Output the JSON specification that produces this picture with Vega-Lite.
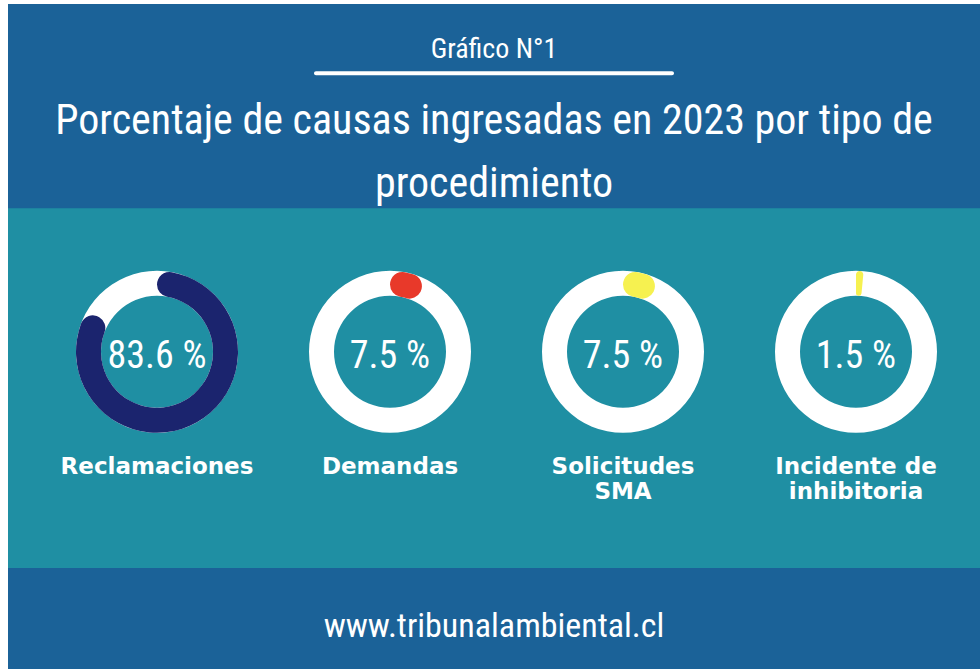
{
  "$schema": "https://vega.github.io/schema/vega-lite/v6.json",
  "width": 980,
  "height": 669,
  "autosize": {"type": "fit", "contains": "padding"},
  "padding": {"left": 8, "top": 4, "right": 0, "bottom": 0},
  "background": "#ffffff",
  "config": {
    "view": {"fill": "#1b6298", "stroke": null},
    "axis": {"disable": true}
  },
  "datasets": {
    "causas": [
      {"categoria": "Reclamaciones", "porcentaje": 83.6, "texto": "83.6 %", "nombre": "Reclamaciones"},
      {"categoria": "Demandas", "porcentaje": 7.5, "texto": "7.5 %", "nombre": "Demandas"},
      {"categoria": "Solicitudes SMA", "porcentaje": 7.5, "texto": "7.5 %", "nombre": "Solicitudes\nSMA"},
      {"categoria": "Incidente de inhibitoria", "porcentaje": 1.5, "texto": "1.5 %", "nombre": "Incidente de\ninhibitoria"}
    ]
  },
  "layer": [
    {
      "data": {"values": [{}]},
      "mark": {"type": "rect", "color": "#1f8fa3"},
      "encoding": {
        "y": {"datum": 30.7, "type": "quantitative", "scale": {"domain": [0, 100], "reverse": true, "nice": false, "zero": false}, "axis": null},
        "y2": {"datum": 84.8}
      }
    },
    {
      "data": {"values": [{}]},
      "mark": {"type": "tick", "color": "#ffffff", "opacity": 1, "thickness": 4, "size": 360, "cornerRadius": 2},
      "encoding": {
        "y": {"datum": 10.4, "type": "quantitative", "axis": null}
      }
    },
    {
      "data": {"values": [{}]},
      "mark": {"type": "text", "color": "#ffffff", "font": "Roboto Condensed, DejaVu Sans Condensed, sans-serif", "fontSize": 28, "baseline": "alphabetic", "align": "center"},
      "encoding": {
        "y": {"datum": 8.1, "type": "quantitative", "axis": null},
        "text": {"value": "Gráfico N°1"}
      }
    },
    {
      "data": {"values": [{}]},
      "mark": {"type": "text", "color": "#ffffff", "font": "Roboto Condensed, DejaVu Sans Condensed, sans-serif", "fontSize": 42, "baseline": "alphabetic", "align": "center"},
      "encoding": {
        "y": {"datum": 19.55, "type": "quantitative", "axis": null},
        "text": {"value": "Porcentaje de causas ingresadas en 2023 por tipo de"}
      }
    },
    {
      "data": {"values": [{}]},
      "mark": {"type": "text", "color": "#ffffff", "font": "Roboto Condensed, DejaVu Sans Condensed, sans-serif", "fontSize": 42, "baseline": "alphabetic", "align": "center"},
      "encoding": {
        "y": {"datum": 29.0, "type": "quantitative", "axis": null},
        "text": {"value": "procedimiento"}
      }
    },
    {
      "data": {"values": [{}]},
      "mark": {"type": "text", "color": "#ffffff", "font": "Roboto Condensed, DejaVu Sans Condensed, sans-serif", "fontSize": 34, "baseline": "alphabetic", "align": "center"},
      "encoding": {
        "y": {"datum": 95.2, "type": "quantitative", "axis": null},
        "text": {"value": "www.tribunalambiental.cl"}
      }
    },
    {
      "data": {"name": "causas"},
      "mark": {"type": "arc", "color": "#ffffff", "radius": 81, "radius2": 56, "theta": 0, "theta2": 6.2832},
      "encoding": {
        "x": {"field": "categoria", "type": "nominal", "sort": null, "scale": {"type": "point", "padding": 0, "domain": ["Reclamaciones", "Demandas", "Solicitudes SMA", "Incidente de inhibitoria"], "range": [149, 848]}, "axis": null},
        "y": {"datum": 52.3, "type": "quantitative", "axis": null}
      }
    },
    {
      "data": {"name": "causas"},
      "mark": {"type": "arc", "radius": 81, "radius2": 56, "cornerRadius": 12.5},
      "encoding": {
        "x": {"field": "categoria", "type": "nominal", "sort": null, "axis": null},
        "y": {"datum": 52.3, "type": "quantitative", "axis": null},
        "theta": {"field": "porcentaje", "type": "quantitative", "stack": null, "scale": {"domain": [0, 100], "range": [0, 6.2832], "zero": true, "nice": false}},
        "theta2": {"datum": 0},
        "color": {"field": "categoria", "type": "nominal", "scale": {"domain": ["Reclamaciones", "Demandas", "Solicitudes SMA", "Incidente de inhibitoria"], "range": ["#1b246e", "#e8392a", "#f6f150", "#f6f150"]}, "legend": null}
      }
    },
    {
      "data": {"name": "causas"},
      "mark": {"type": "text", "color": "#ffffff", "font": "Roboto Condensed, DejaVu Sans Condensed, sans-serif", "fontSize": 38, "baseline": "alphabetic", "align": "center"},
      "encoding": {
        "x": {"field": "categoria", "type": "nominal", "sort": null, "axis": null},
        "y": {"datum": 54.7, "type": "quantitative", "axis": null},
        "text": {"field": "texto", "type": "nominal"}
      }
    },
    {
      "data": {"name": "causas"},
      "mark": {"type": "text", "color": "#ffffff", "font": "DejaVu Sans", "fontWeight": "bold", "fontSize": 23, "baseline": "alphabetic", "align": "center", "lineBreak": "\n", "lineHeight": 25},
      "encoding": {
        "x": {"field": "categoria", "type": "nominal", "sort": null, "axis": null},
        "y": {"datum": 70.7, "type": "quantitative", "axis": null},
        "text": {"field": "nombre", "type": "nominal"}
      }
    }
  ]
}
